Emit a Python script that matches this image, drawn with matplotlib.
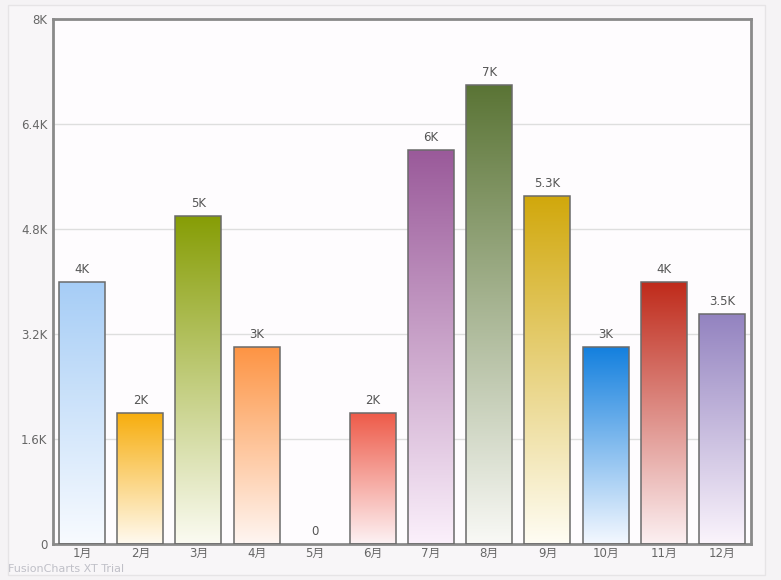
import numpy as np
import matplotlib.pyplot as plt
from matplotlib.colors import LinearSegmentedColormap
from matplotlib.patches import Rectangle

plt.rcParams['font.family'] = ['DejaVu Sans', 'Noto Sans CJK SC']

# 数据
months = ['1月', '2月', '3月', '4月', '5月', '6月', '7月', '8月', '9月', '10月', '11月', '12月']
values = [4000, 2000, 5000, 3000, 0, 2000, 6000, 7000, 5300, 3000, 4000, 3500]
value_labels = ['4K', '2K', '5K', '3K', '0', '2K', '6K', '7K', '5.3K', '3K', '4K', '3.5K']
top_colors = ['#a6cdf6', '#f7ad0c', '#869d05', '#fd9444', '#ffffff', '#ee5a48',
              '#9a5a9a', '#5a7435', '#d1a80c', '#1480de', '#bf2a1a', '#9383c0']
bottom_colors = ['#f8fbff', '#fffaf0', '#fbfbf2', '#fff6f2', '#ffffff', '#fdf2f4',
                 '#fbf0fb', '#f9f9f6', '#fffdf4', '#f4f8ff', '#fcf0f2', '#fbf4fc']
y_ticks = [0, 1600, 3200, 4800, 6400, 8000]
y_tick_labels = ['0', '1.6K', '3.2K', '4.8K', '6.4K', '8K']

fig = plt.figure(figsize=(7.81, 5.80), dpi=100, facecolor='#f5f3f5')
# moldura externa clara
fig.patches.append(Rectangle((8 / 781, 5 / 580), 757 / 781, 570 / 580,
                             transform=fig.transFigure, facecolor='#f8f6f8',
                             edgecolor='#e6e4e6', linewidth=1, zorder=-5))

ax = fig.add_axes([53 / 781, 36 / 580, 698 / 781, 525 / 580])
ax.set_zorder(1)
ax.set_facecolor('#fefcfe')

x = np.arange(len(months))
largura = 0.79
bars = ax.bar(x, values, width=largura, facecolor='none', edgecolor='#6a6a6a',
              linewidth=1.1, zorder=3)

grad = np.linspace(1, 0, 256).reshape(-1, 1)
for i, b in enumerate(bars):
    if values[i] <= 0:
        b.set_visible(False)
        continue
    cmap = LinearSegmentedColormap.from_list('g%d' % i, [bottom_colors[i], top_colors[i]])
    im = ax.imshow(grad, cmap=cmap, aspect='auto', zorder=2,
                   extent=[b.get_x(), b.get_x() + b.get_width(), 0, values[i]])
    im.set_clip_path(b)

for i, v in enumerate(values):
    ax.text(x[i], v + 90, value_labels[i], ha='center', va='bottom',
            fontsize=8.5, color='#555555', zorder=4)

ax.set_xlim(-0.5, len(months) - 0.5)
ax.set_ylim(0, 8000)
ax.set_yticks(y_ticks)
ax.set_yticklabels(y_tick_labels)
ax.set_xticks(x)
ax.set_xticklabels(months)
ax.tick_params(axis='y', length=0, labelsize=8.5, colors='#666666', pad=4)
ax.tick_params(axis='x', length=0, labelsize=8.5, colors='#666666', pad=2)
ax.yaxis.grid(True, color='#dedede', linewidth=1, zorder=1)
ax.set_axisbelow(True)
for s in ax.spines.values():
    s.set_color('#8a8a8a')
    s.set_linewidth(2)

fig.text(8 / 781, 1 - 569 / 580, 'FusionCharts XT Trial', fontsize=8,
         color='#c0c0c8', va='center', ha='left')

fig.savefig('out.png', dpi=100, facecolor=fig.get_facecolor())
